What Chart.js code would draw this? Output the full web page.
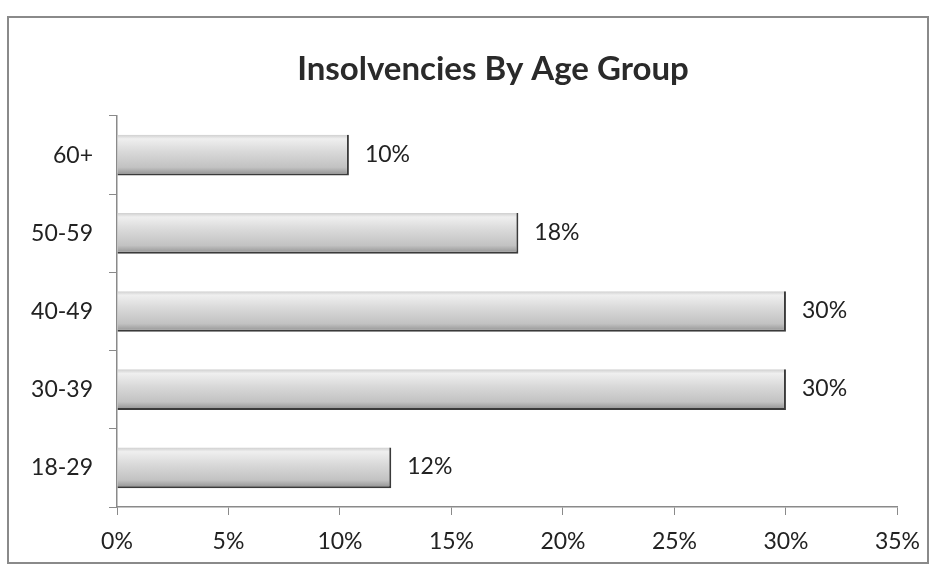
<!DOCTYPE html>
<html>
<head>
<meta charset="utf-8">
<script src="https://cdn.jsdelivr.net/npm/chart.js@4.4.1/dist/chart.umd.min.js"></script>
<style>
  html, body { margin: 0; padding: 0; background: #fff; }
  #wrap { width: 933px; height: 567px; position: relative; }
</style>
</head>
<body>
<div id="wrap"><canvas id="chart" width="933" height="567"></canvas></div>
<script>
const ageGroups = ['60+', '50-59', '40-49', '30-39', '18-29'];
const insolvencyShare = [10.4, 18, 30, 30, 12.3];
const shareTicks = [0, 5, 10, 15, 20, 25, 30, 35];
const chartTitle = 'Insolvencies By Age Group';

const chartCanvas = document.getElementById('chart');

// outer frame and title, placed like the pasted Excel chart
const framePlugin = {
    id: 'frame',
    beforeDraw(chart) {
        const ctx = chart.ctx;
        ctx.save();
        ctx.strokeStyle = '#8a8a8a';
        ctx.lineWidth = 2;
        ctx.strokeRect(8, 17, 920, 546);
        ctx.font = 'bold 33px Lato';
        ctx.fillStyle = '#2a2a2a';
        ctx.textAlign = 'center';
        ctx.textBaseline = 'middle';
        ctx.fillText(chartTitle, 493, 69);
        ctx.restore();
    }
};

// value labels at the end of each bar
const barLabels = {
    id: 'barLabels',
    afterDatasetsDraw(chart) {
        const ctx = chart.ctx;
        const meta = chart.getDatasetMeta(0);
        ctx.save();
        ctx.font = '23px Lato';
        ctx.fillStyle = '#222';
        ctx.textBaseline = 'middle';
        meta.data.forEach((bar, i) => {
            ctx.fillText(Math.round(insolvencyShare[i]) + '%', bar.x + 16, bar.y - 1);
        });
        ctx.restore();
    }
};

// each bar shaded top to bottom
function barFill(context) {
    const y = context.chart.scales.y;
    if (!y || !y.height) return '#d0d0d0';
    const mid = y.getPixelForTick(context.dataIndex);
    const h = y.height / ageGroups.length * 0.52;
    const g = context.chart.ctx.createLinearGradient(0, mid - h / 2, 0, mid + h / 2);
    g.addColorStop(0, '#cfcfcf');
    g.addColorStop(0.1, '#efefef');
    g.addColorStop(0.4, '#dadada');
    g.addColorStop(0.8, '#c2c2c2');
    g.addColorStop(1, '#8e8e8e');
    return g;
}

new Chart(chartCanvas, {
    type: 'bar',
    data: {
        labels: ageGroups,
        datasets: [{
            data: insolvencyShare,
            backgroundColor: barFill,
            borderColor: '#3a3a3a',
            borderWidth: { top: 0, left: 0, right: 2, bottom: 2 },
            borderSkipped: false,
            categoryPercentage: 1,
            barPercentage: 0.52
        }]
    },
    options: {
        indexAxis: 'y',
        responsive: false,
        animation: false,
        layout: { padding: { left: 0, right: 33, top: 116, bottom: 0 } },
        plugins: {
            legend: { display: false },
            tooltip: { enabled: false },
            title: { display: false }
        },
        scales: {
            x: {
                min: 0,
                max: 35,
                afterBuildTicks(scale) {
                    scale.ticks = shareTicks.map(v => ({ value: v }));
                },
                afterFit(scale) { scale.height = 60; },
                border: { display: true, color: '#8a8a8a', width: 1.5 },
                grid: { drawOnChartArea: false, drawTicks: true, tickLength: 8, color: '#8a8a8a' },
                ticks: {
                    color: '#222',
                    padding: 13,
                    font: { family: 'Lato', size: 23 },
                    callback: v => v + '%'
                }
            },
            y: {
                afterFit(scale) { scale.width = 117; },
                border: { display: true, color: '#8a8a8a', width: 1.5 },
                grid: { offset: true, drawOnChartArea: false, drawTicks: true, tickLength: 8, color: '#8a8a8a' },
                ticks: {
                    color: '#222',
                    padding: 16,
                    font: { family: 'Lato', size: 23 }
                }
            }
        }
    },
    plugins: [framePlugin, barLabels]
});
</script>
</body>
</html>
